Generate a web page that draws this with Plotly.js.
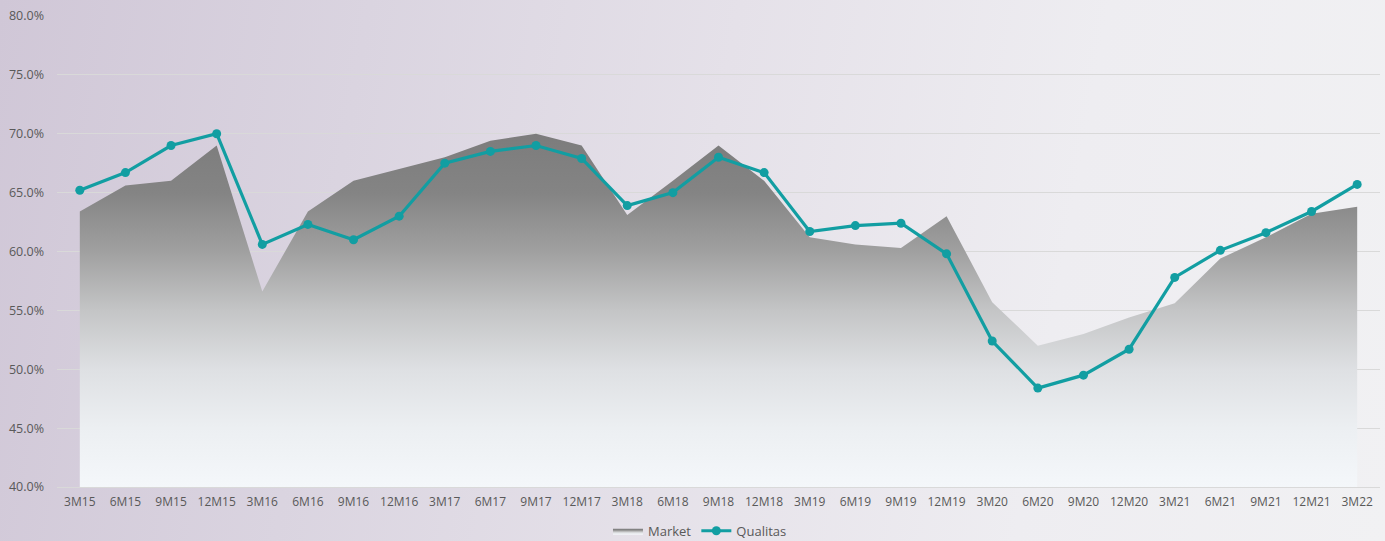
<!DOCTYPE html>
<html>
<head>
<meta charset="utf-8">
<script src="https://cdn.plot.ly/plotly-3.0.1.min.js"></script>
<style>
html,body{margin:0;padding:0;width:1385px;height:541px;overflow:hidden;}
body{background:linear-gradient(100deg,#d0c7d7 0%,#dad4e0 25%,#e5e1e9 50%,#eeedf1 75%,#f1f1f3 100%);}
#chart{width:1385px;height:541px;}
</style>
</head>
<body>
<div id="chart"></div>
<script>
const categories = ["3M15","6M15","9M15","12M15","3M16","6M16","9M16","12M16","3M17","6M17","9M17","12M17","3M18","6M18","9M18","12M18","3M19","6M19","9M19","12M19","3M20","6M20","9M20","12M20","3M21","6M21","9M21","12M21","3M22"];
const market = [63.4,65.6,66.0,69.0,56.6,63.4,66.0,67.0,68.0,69.4,70.0,69.0,63.1,66.0,69.0,66.0,61.2,60.6,60.3,63.0,55.7,52.0,53.0,54.4,55.6,59.4,61.2,63.2,63.8];
const qualitas = [65.2,66.7,69.0,70.0,60.6,62.3,61.0,63.0,67.5,68.5,69.0,67.9,63.9,65.0,68.0,66.7,61.7,62.2,62.4,59.8,52.4,48.4,49.5,51.7,57.8,60.1,61.6,63.4,65.7];
const yTicks = [40,45,50,55,60,65,70,75,80];
const yTickText = yTicks.map(v => v.toFixed(1) + "%");

const traces = [
  {
    name: "Market",
    x: categories,
    y: market,
    type: "scatter",
    mode: "lines",
    fill: "tozeroy",
    line: {width: 0, color: "#8a8a8a"},
    fillgradient: {
      type: "vertical",
      start: 40,
      stop: 70,
      colorscale: [[0, "#f4f7fa"], [0.167, "#eceff2"], [0.333, "#dee0e3"], [0.5, "#c4c5c6"], [0.667, "#a0a0a0"], [0.833, "#848484"], [1, "#7c7c7c"]]
    },
    hoverinfo: "skip"
  },
  {
    name: "Qualitas",
    x: categories,
    y: qualitas,
    type: "scatter",
    mode: "lines+markers",
    line: {color: "#129ea2", width: 3.2},
    marker: {color: "#129ea2", size: 9}
  }
];

const layout = {
  width: 1385,
  height: 541,
  margin: {l: 57, r: 5, t: 16, b: 54, autoexpand: false},
  paper_bgcolor: "rgba(0,0,0,0)",
  plot_bgcolor: "rgba(0,0,0,0)",
  font: {family: "Open Sans, sans-serif", color: "#595959", size: 12},
  showlegend: true,
  legend: {
    orientation: "h",
    x: 0.486, xanchor: "center",
    y: -0.093, yanchor: "middle",
    font: {size: 13, color: "#595959"},
    bgcolor: "rgba(0,0,0,0)"
  },
  xaxis: {
    type: "category",
    range: [-0.5, 28.5],
    showgrid: false,
    showline: true,
    linecolor: "#d9d9d9",
    linewidth: 1,
    ticks: "",
    ticklabelstandoff: 4,
    tickfont: {size: 12, color: "#595959"},
    tickangle: 0,
    fixedrange: true
  },
  yaxis: {
    range: [40, 80],
    tickvals: yTicks,
    ticktext: yTickText,
    showgrid: true,
    gridcolor: "#d9d9d9",
    gridwidth: 1,
    zeroline: false,
    showline: false,
    ticks: "",
    ticklabelstandoff: 12,
    tickfont: {size: 12.5, color: "#595959"},
    fixedrange: true
  }
};

Plotly.newPlot("chart", traces, layout, {displayModeBar: false, staticPlot: true});
</script>
</body>
</html>
